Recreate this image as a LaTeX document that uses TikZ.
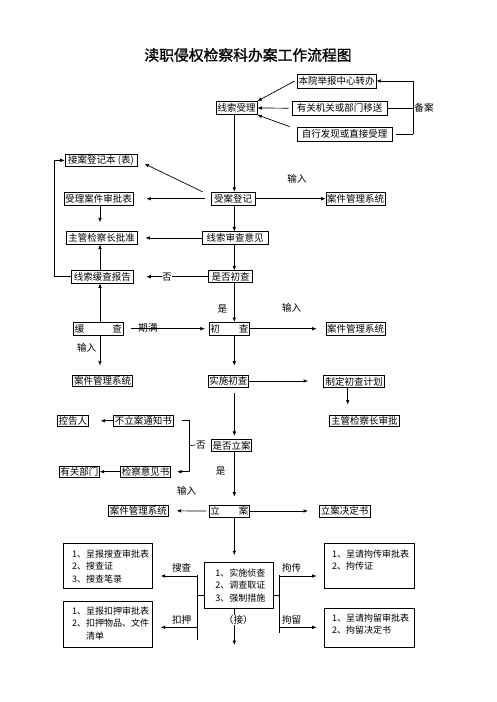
\documentclass[tikz,border=0pt]{standalone}
\usepackage{fontspec}
\setmainfont{Noto Sans CJK SC}
\newfontfamily\titlefont{Noto Sans CJK SC}[FakeBold=1.2]
\usetikzlibrary{arrows.meta}
\begin{document}
\begin{tikzpicture}[x=1pt,y=-1pt, line width=0.7pt,
  bx/.style 2 args={draw, inner sep=0pt, minimum width=#1pt, minimum height=#2pt, font=\fontsize{9.5}{11}\selectfont},
  lbl/.style={inner sep=0.5pt, font=\fontsize{9.6}{11}\selectfont},
  arr/.style={-{Latex[length=4.5pt,width=3.6pt]}},
  lst/.style={draw, inner sep=0pt, anchor=north west},
]
\useasboundingbox (0,0) rectangle (496,702);
\node (title) at (248,55) {\titlefont\fontsize{14.8}{15}\selectfont 渎职侵权检察科办案工作流程图};

% helper coordinates
\coordinate (col) at (234.3,0);
\coordinate (bk) at (413,0);
\coordinate (lp) at (54.7,0);
\coordinate (lc) at (100,0);
\coordinate (rc) at (347.7,0);
\coordinate (lb) at (189.3,0);
\coordinate (lbk) at (197.3,0);
\coordinate (rbk) at (279.3,0);
\coordinate (ya) at (0,576);
\coordinate (yb) at (0,627.3);
\coordinate (ym) at (0,595.7);

% boxes
\node[bx={79}{14}] (bzzx) at (336.5,81) {本院举报中心转办};
\node[bx={40.5}{13}] (xssl) at (236.7,108) {线索受理};
\node[bx={95}{13.5}] (ygjg) at (339.5,108.2) {有关机关或部门移送};
\node[bx={95}{14}] (zxfx) at (344.5,134) {自行发现或直接受理};
\node[bx={72}{12.7}] (jadjb) at (101,160.3) {接案登记本 (表)};
\node[bx={44}{13}] (sadj) at (233,198.7) {受案登记};
\node[bx={59}{12.5}] (ajgl1) at (355.5,198.9) {案件管理系统};
\node[bx={69}{13}] (slsp) at (98.5,199.2) {受理案件审批表};
\node[bx={71}{12.3}] (zgpz) at (101.5,237.9) {主管检察长批准};
\node[bx={66}{12.5}] (xsyj) at (235,238) {线索审查意见};
\node[bx={61.3}{13}] (hcbg) at (102.3,276.5) {线索缓查报告};
\node[bx={44.4}{12}] (sfcc) at (230.5,276.7) {是否初查};
\node[bx={50}{12.7}] (hc) at (98.3,328.7) {\makebox[47pt]{缓\hfill 查}};
\node[bx={40}{12.7}] (cc) at (229.3,328.7) {\makebox[38pt]{初\hfill 查}};
\node[bx={59}{13}] (ajgl2) at (355.5,328.5) {案件管理系统};
\node[bx={60}{11.7}] (ajgl3) at (102.7,380.8) {案件管理系统};
\node[bx={40}{12}] (sscc) at (228.3,381) {实施初查};
\node[bx={61}{11.5}] (zdjh) at (354,381.5) {制定初查计划};
\node[bx={70}{11.7}] (zgsp) at (364.3,420.8) {主管检察长审批};
\node[bx={31}{11.7}] (kgr) at (72.8,420.8) {控告人};
\node[bx={60}{11.7}] (blzs) at (143.3,420.8) {不立案通知书};
\node[bx={40}{12.4}] (sfla) at (231.7,445.5) {是否立案};
\node[bx={40}{11.3}] (ygbm) at (79.3,471.7) {有关部门};
\node[bx={50}{11.3}] (jcyj) at (145.7,471.7) {检察意见书};
\node[bx={60}{11.7}] (ajgl4) at (138.3,510.8) {案件管理系统};
\node[bx={40}{12}] (la) at (229.3,511) {\makebox[38pt]{立\hfill 案}};
\node[bx={50.7}{12}] (ljds) at (344.7,511) {立案决定书};

\node[lst] (zc) at (204,562.3) {\parbox[c][46pt][t]{69pt}{\fontsize{9}{12.5}\selectfont\vspace*{5pt}\leftskip=11pt\strut 1、实施侦查\\2、调查取证\\3、强制措施}};
\node[lst] (sczl) at (62.7,543.3) {\parbox[c][45pt][t]{89.6pt}{\fontsize{9}{12.5}\selectfont\vspace*{4.65pt}\leftskip=9pt\strut 1、呈报搜查审批表\\2、搜查证\\3、搜查笔录}};
\node[lst] (kyzl) at (62.7,600.7) {\parbox[c][46.6pt][t]{89.6pt}{\fontsize{9}{12.5}\selectfont\vspace*{4.65pt}\leftskip=9pt\strut 1、呈报扣押审批表\\2、扣押物品、文件\\\phantom{2、}清单}};
\node[lst] (jczl) at (324,543.3) {\parbox[c][45pt][t]{90pt}{\fontsize{9}{12.5}\selectfont\vspace*{4.65pt}\leftskip=7.7pt\strut 1、呈请拘传审批表\\2、拘传证}};
\node[lst] (jlzl) at (324,608.3) {\parbox[c][39pt][t]{90pt}{\fontsize{9}{12}\selectfont\vspace*{4.65pt}\leftskip=7.7pt\strut 1、呈请拘留审批表\\2、拘留决定书}};

% labels without fill
\node[lbl] (ba) at (424,108) {备案};
\node[lbl] (sr1) at (297,179) {输入};
\node[lbl] (shi1) at (222.3,309) {是};
\node[lbl] (sr2) at (291.7,308.3) {输入};
\node[lbl] (qm) at (148,328) {期满};
\node[lbl] (sr3) at (86.7,348) {输入};
\node[lbl] (fou2) at (201,445) {否};
\node[lbl] (shi2) at (220.7,470.7) {是};
\node[lbl] (sr4) at (186.7,490.7) {输入};
\node[lbl] (sc) at (181.7,568.3) {搜查};
\node[lbl] (ky) at (181.7,620) {扣押};
\node[lbl] (jc) at (291.7,568) {拘传};
\node[lbl] (jl) at (291.7,620) {拘留};

% top inputs
\draw[arr] ([xshift=-2pt]bzzx.west) -- (xssl.north east);
\draw[arr, shorten <=3pt] (ygjg.west) -- (xssl.east);
\draw[arr] ([xshift=-7pt]zxfx.north west) -- (xssl.south east);
\draw (ygjg.east) -- (ygjg.east -| bk);
\draw (bzzx.east -| bk) -- (zxfx.east -| bk);
\draw[arr] (bzzx.east -| bk) -- (bzzx.east);
\draw[shorten >=4pt] (zxfx.east -| bk) -- (zxfx.east);

% central column
\draw[arr] (xssl.south -| col) -- (sadj.north -| col);
\draw[arr] (sadj.south -| col) -- (xsyj.north -| col);
\draw[arr] (xsyj.south -| col) -- (sfcc.north -| col);
\draw[arr] (sfcc.south -| col) -- (cc.north -| col);
\draw[arr, shorten >=9pt] (cc.south -| col) -- (sscc.north -| col);
\draw[arr, shorten <=6pt, shorten >=3pt] (sscc.south -| col) -- (sfla.north -| col);
\draw[arr, shorten >=8pt] (sfla.south -| col) -- (la.north -| col);
\draw[arr, shorten >=7pt] (la.south -| col) -- (zc.north -| col);
\coordinate (zcend) at (234.3,645);
\draw[arr] (zc.south -| col) -- (zcend);

% left side
\draw[arr] (hcbg.west) -- (hcbg.west -| lp) -- (jadjb.west -| lp) -- (jadjb.west);
\draw[arr, shorten >=8pt] ([xshift=-8pt]sadj.north west) -- (jadjb.east);
\draw[arr, shorten <=6pt, shorten >=13pt] (sadj.west) -- (sadj.west -| slsp.east);
\draw[arr, shorten >=9pt] (slsp.south -| lc) -- (zgpz.north -| lc);
\draw[arr, shorten >=8pt] (xsyj.west) -- (xsyj.west -| zgpz.east);
\draw[arr] (hcbg.north -| lc) -- (zgpz.south -| lc);
\draw[arr, shorten >=13pt] (sfcc.west) -- (sfcc.west -| hcbg.east);
\draw[arr] (hc.north -| lc) -- (hcbg.south -| lc);
\draw[arr, shorten >=9pt] (hc.south -| lc) -- (ajgl3.north -| lc);
\draw[arr, shorten <=7pt, shorten >=4pt] (hc.east) -- (hc.east -| cc.west);

% right side
\draw[arr] (sadj.east) -- (sadj.east -| ajgl1.west);
\draw[arr, shorten >=9pt] (cc.east) -- (cc.east -| ajgl2.west);
\draw[arr, shorten >=15pt] (sscc.east) -- (sscc.east -| zdjh.west);
\draw[arr, shorten >=10pt] (zdjh.south -| rc) -- (zgsp.north -| rc);

% decision on filing
\draw[arr, shorten >=12pt] (blzs.west) -- (kgr.east);
\draw[arr, shorten >=6pt] ([xshift=8.4pt]blzs.east) -- (blzs.east -| lb) -- (jcyj.east -| lb) -- (jcyj.east);
\draw (sfla.west -| lb) -- (fou2.west);
\draw[arr] (jcyj.west) -- (ygbm.east);
\draw[arr, shorten <=3pt, shorten >=8pt] (la.west) -- (ajgl4.east);
\draw[arr, shorten >=11pt] (la.east) -- (ljds.west);

% bottom brackets
\draw (zc.west |- ym) -- (lbk |- ym);
\draw (zc.east |- ym) -- (rbk |- ym);
\coordinate (lt) at (197.3,575);
\coordinate (lbot) at (197.3,640);
\coordinate (rt) at (279.3,575);
\coordinate (rbot) at (279.3,633.3);
\draw (lt) -- (lbot);
\draw (rt) -- (rbot);
\draw[arr, shorten >=7.7pt] (lbk |- ya) -- (sczl.east |- ya);
\draw[arr, shorten >=7.7pt] (lbk |- yb) -- (kyzl.east |- yb);
\draw[arr, shorten >=7.3pt] (rbk |- ya) -- (jczl.west |- ya);
\draw[arr, shorten >=7.3pt] (rbk |- yb) -- (jlzl.west |- yb);

% labels with white fill over lines
\node[lbl, fill=white] (fou1) at (167,277) {否};
\node[lbl, fill=white] (jie) at (238.3,620) {（接）};
\end{tikzpicture}
\end{document}
